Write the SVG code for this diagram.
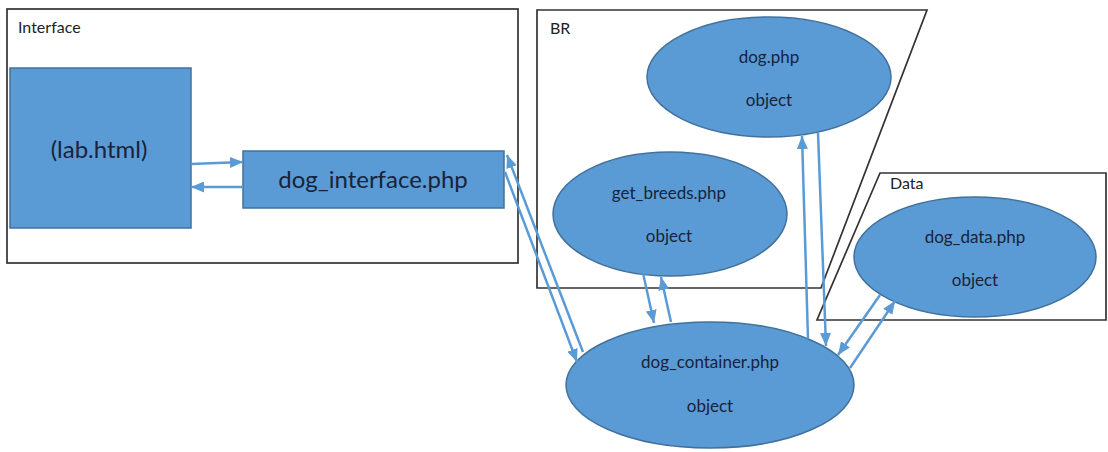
<svg xmlns="http://www.w3.org/2000/svg" width="1108" height="452" viewBox="0 0 1108 452">
<style>
.frame{fill:none;stroke:#333;stroke-width:1.7}
.lbl{font-family:Lato,"Liberation Sans",sans-serif;font-size:16px;fill:#222}
.shape{fill:#5b9bd5;stroke:#41719c;stroke-width:1.5}
.txt{font-family:Lato,"Liberation Sans",sans-serif;fill:#17233a;text-anchor:middle}
.et{font-size:17px}
.conn line{stroke:#5b9bd5;stroke-width:2.5;marker-end:url(#ah)}
</style>
<defs>
<marker id="ah" markerUnits="userSpaceOnUse" markerWidth="13" markerHeight="11" refX="13" refY="5.5" orient="auto">
<path d="M0,0 L13,5.5 L0,11 z" fill="#5b9bd5"/>
</marker>
</defs>
<rect width="1108" height="452" fill="#fff"/>
<g id="group-interface">
<rect class="frame" x="7" y="9" width="511" height="254"/>
<text class="lbl" x="18" y="33">Interface</text>
</g>
<g id="group-br">
<polygon class="frame" points="537,10 927,10 821,288 537,288"/>
<text class="lbl" x="550" y="34">BR</text>
</g>
<g id="group-data">
<polygon class="frame" points="880,173 1106,173 1106,320 817,320"/>
<text class="lbl" x="890" y="189">Data</text>
</g>
<g id="lab-html">
<rect class="shape" x="10" y="68" width="181" height="160"/>
<text class="txt" x="99" y="158" font-size="24">(lab.html)</text>
</g>
<g id="dog-interface">
<rect class="shape" x="243" y="151" width="261" height="57"/>
<text class="txt" x="373" y="188" font-size="24">dog_interface.php</text>
</g>
<g id="dog-php">
<ellipse class="shape" cx="769" cy="77" rx="122" ry="60"/>
<text class="txt et" x="769" y="63">dog.php</text>
<text class="txt et" x="769" y="106">object</text>
</g>
<g id="get-breeds">
<ellipse class="shape" cx="670" cy="214" rx="117" ry="62"/>
<text class="txt et" x="669" y="199">get_breeds.php</text>
<text class="txt et" x="669" y="242">object</text>
</g>
<g id="dog-data">
<ellipse class="shape" cx="975" cy="257" rx="121" ry="60"/>
<text class="txt et" x="975" y="243">dog_data.php</text>
<text class="txt et" x="975" y="286">object</text>
</g>
<g id="dog-container">
<ellipse class="shape" cx="710" cy="385" rx="144" ry="63"/>
<text class="txt et" x="710" y="368">dog_container.php</text>
<text class="txt et" x="710" y="412">object</text>
</g>
<g id="connectors" class="conn">
<line x1="191" y1="164" x2="243" y2="162"/>
<line x1="243" y1="187" x2="191" y2="187"/>
<line x1="583" y1="352" x2="507" y2="155"/>
<line x1="505" y1="172" x2="577" y2="362"/>
<line x1="643" y1="273" x2="654" y2="323"/>
<line x1="671" y1="322" x2="661" y2="277"/>
<line x1="808" y1="339" x2="802" y2="136"/>
<line x1="818" y1="133" x2="826" y2="346"/>
<line x1="880" y1="295" x2="838" y2="355"/>
<line x1="850" y1="368" x2="895" y2="301"/>
</g>
</svg>
